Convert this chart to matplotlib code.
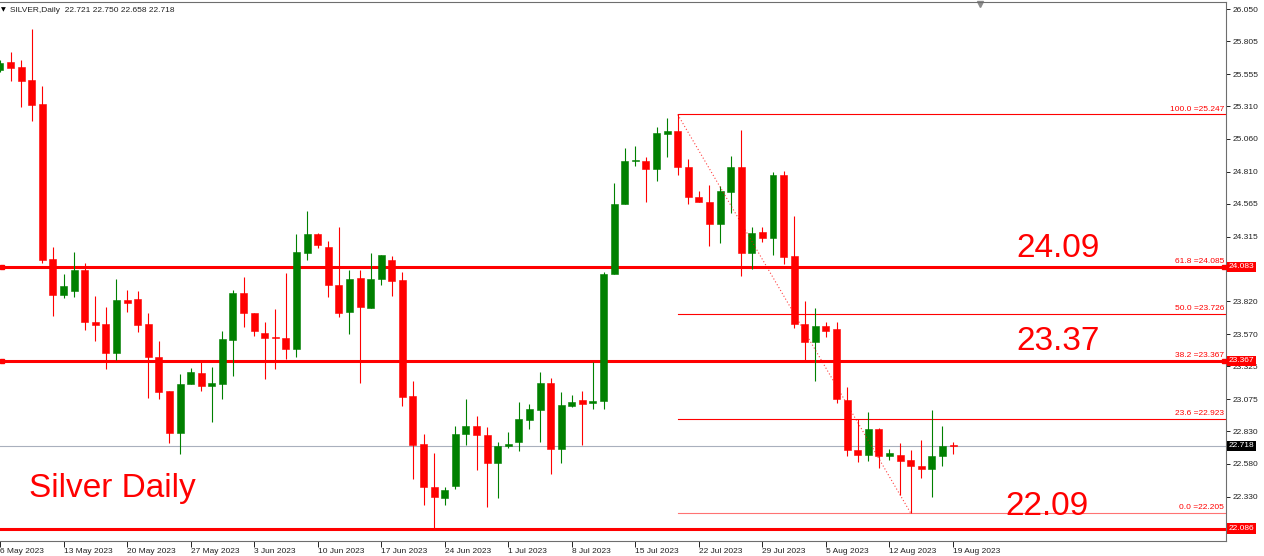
import matplotlib.pyplot as plt
import matplotlib.transforms as mtransforms

plt.rcParams['font.family'] = ['Liberation Sans', 'DejaVu Sans']

# Daily OHLC, one bar per trading day (6 bars per week on this feed)
opens = [25.587, 25.645, 25.610, 25.510, 25.327, 24.144, 23.867, 23.902, 24.062, 23.665,
         23.648, 23.429, 23.829, 23.839, 23.648, 23.396, 23.136, 22.818, 23.187, 23.271,
         23.177, 23.192, 23.528, 23.884, 23.732, 23.577, 23.548, 23.541, 23.457, 24.187,
         24.332, 24.236, 23.945, 23.742, 23.997, 23.772, 23.989, 24.136, 23.981, 23.098,
         22.729, 22.403, 22.322, 22.411, 22.808, 22.867, 22.800, 22.584, 22.719, 22.749,
         22.913, 22.994, 23.195, 22.696, 23.022, 23.068, 23.042, 23.062, 24.027, 24.561,
         24.890, 24.892, 24.833, 25.100, 25.121, 24.846, 24.619, 24.579, 24.413, 24.658,
         24.846, 24.192, 24.350, 24.307, 24.783, 24.165, 23.650, 23.513, 23.633, 23.607,
         23.068, 22.686, 22.645, 22.846, 22.642, 22.648, 22.607, 22.566, 22.543, 22.640,
         22.721]
highs = [25.663, 25.722, 25.663, 25.900, 25.465, 24.236, 24.029, 24.197, 24.113, 23.862,
         23.775, 23.991, 23.907, 23.900, 23.729, 23.518, 23.136, 23.266, 23.312, 23.365,
         23.320, 23.594, 23.907, 24.004, 23.732, 23.663, 23.762, 24.035, 24.335, 24.510,
         24.342, 24.284, 24.386, 24.060, 24.060, 24.190, 24.174, 24.167, 24.047, 23.210,
         22.808, 22.665, 22.401, 22.869, 23.073, 22.943, 22.862, 22.747, 22.821, 23.052,
         23.037, 23.281, 23.233, 23.126, 23.106, 23.136, 23.360, 24.048, 24.722, 24.994,
         25.007, 24.923, 25.152, 25.218, 25.247, 24.905, 24.665, 24.707, 24.703, 24.930,
         25.129, 24.388, 24.390, 24.808, 24.818, 24.472, 23.823, 23.768, 23.661, 23.663,
         23.167, 22.920, 22.976, 22.854, 22.694, 22.739, 22.688, 22.762, 22.991, 22.869,
         22.750]
lows = [25.571, 25.503, 25.307, 25.200, 24.116, 23.711, 23.846, 23.856, 23.602, 23.518,
        23.304, 23.373, 23.742, 23.589, 23.085, 23.075, 22.742, 22.655, 23.187, 23.139,
        22.902, 23.075, 23.253, 23.627, 23.558, 23.228, 23.307, 23.378, 23.398, 24.136,
        24.230, 23.856, 23.703, 23.571, 23.200, 23.772, 23.948, 23.864, 23.024, 22.467,
        22.264, 22.086, 22.264, 22.386, 22.726, 22.533, 22.249, 22.322, 22.703, 22.681,
        22.849, 22.747, 22.503, 22.589, 23.012, 22.726, 22.997, 22.997, 24.027, 24.561,
        24.856, 24.581, 24.742, 24.920, 24.783, 24.566, 24.581, 24.243, 24.268, 24.493,
        24.014, 24.070, 24.276, 24.174, 24.103, 23.617, 23.373, 23.213, 23.546, 23.047,
        22.640, 22.592, 22.604, 22.551, 22.610, 22.342, 22.205, 22.474, 22.325, 22.564,
        22.658]
closes = [25.640, 25.604, 25.505, 25.322, 24.136, 23.867, 23.938, 24.062, 23.665, 23.642,
          23.429, 23.831, 23.806, 23.640, 23.394, 23.131, 22.818, 23.190, 23.281, 23.177,
          23.197, 23.531, 23.884, 23.729, 23.597, 23.543, 23.539, 23.457, 24.195, 24.332,
          24.253, 23.943, 23.734, 23.991, 23.775, 23.991, 24.174, 23.978, 23.093, 22.726,
          22.401, 22.325, 22.381, 22.808, 22.869, 22.803, 22.584, 22.716, 22.732, 22.923,
          22.999, 23.195, 22.691, 23.029, 23.050, 23.037, 23.062, 24.032, 24.564, 24.890,
          24.900, 24.833, 25.103, 25.119, 24.846, 24.617, 24.581, 24.409, 24.663, 24.846,
          24.192, 24.345, 24.307, 24.783, 24.162, 23.650, 23.510, 23.633, 23.594, 23.073,
          22.686, 22.650, 22.844, 22.640, 22.663, 22.604, 22.564, 22.543, 22.640, 22.719,
          22.718]

date_labels = ['6 May 2023', '13 May 2023', '20 May 2023', '27 May 2023', '3 Jun 2023',
               '10 Jun 2023', '17 Jun 2023', '24 Jun 2023', '1 Jul 2023', '8 Jul 2023',
               '15 Jul 2023', '22 Jul 2023', '29 Jul 2023', '5 Aug 2023', '12 Aug 2023',
               '19 Aug 2023']
price_ticks = [26.050, 25.805, 25.555, 25.310, 25.060, 24.810, 24.565, 24.315,
               23.820, 23.570, 23.325, 23.075, 22.830, 22.580, 22.330]

# levels
hlines = [24.083, 23.367, 22.086]
current = 22.718
fib_start, fib_end = 64, 86
fib_high, fib_low = 25.247, 22.205
fib_ratios = [100.0, 61.8, 50.0, 38.2, 23.6, 0.0]

up_col = '#008000'
dn_col = '#ff0000'

fig = plt.figure(figsize=(12.64, 5.56), dpi=100)
ax = fig.add_axes([0, 15 / 556, 1226 / 1264, 539 / 556])

n = len(opens)
xs = list(range(n))
for i in xs:
    o, h, l, c = opens[i], highs[i], lows[i], closes[i]
    col = up_col if c >= o else dn_col
    ax.vlines(i, l, h, color=col, linewidth=0.8, zorder=3)
    bottom = min(o, c)
    height = max(abs(c - o), 0.004)
    ax.bar(i, height, bottom=bottom, width=0.66, color=col, edgecolor=col,
           linewidth=0.4, zorder=4)

# current price line
ax.axhline(current, color='#a9b0bd', linewidth=0.8, zorder=1)

# horizontal levels
for lv in hlines:
    ax.axhline(lv, color=dn_col, linewidth=2.2, zorder=2)
for lv in hlines[:2]:
    ax.plot([0.15], [lv], marker='s', ms=3, color=dn_col, clip_on=False, zorder=5)
    ax.plot([115.6], [lv], marker='s', ms=2.5, color=dn_col, clip_on=False, zorder=5)

# fibonacci retracement
ax.plot([fib_start, fib_end], [fib_high, fib_low], color=dn_col, linewidth=0.8,
        linestyle=(0, (1, 2)), alpha=0.75, zorder=5)
xmax = 115.78
for r in fib_ratios:
    lv = fib_low + r / 100 * (fib_high - fib_low)
    a = 0.55 if r == 0.0 else 1.0
    ax.plot([fib_start, xmax], [lv, lv], color=dn_col, linewidth=0.8, alpha=a, zorder=2)
    ax.text(xmax - 0.2, lv + 0.012, '%.1f =%.3f' % (r, lv), color=dn_col, fontsize=6,
            ha='right', va='bottom', zorder=6)

ax.set_xlim(0.12, xmax)
ax.set_ylim(21.9912, 26.1057)

# axes styling
for s in ['left']:
    ax.spines[s].set_visible(False)
for s in ['top', 'right', 'bottom']:
    ax.spines[s].set_color('#6e6e6e')
    ax.spines[s].set_linewidth(0.8)

ax.yaxis.tick_right()
ax.set_yticks(price_ticks)
ax.set_yticklabels(['%.3f' % v for v in price_ticks])
ax.tick_params(axis='y', length=3, width=0.7, pad=2, labelsize=6, colors='#222222')

ax.set_xticks(list(range(0, n, 6)))
ax.set_xticklabels(date_labels, ha='left')
ax.tick_params(axis='x', length=4, width=0.7, pad=1, labelsize=6, colors='#222222')

# price boxes on the right scale
trans = mtransforms.blended_transform_factory(ax.transAxes, ax.transData)
for lv in hlines:
    ax.text(1.0025, lv, '%.3f' % lv, transform=trans, color='white', fontsize=6,
            ha='left', va='center', clip_on=False, zorder=10,
            bbox=dict(boxstyle='square,pad=0.2', facecolor=dn_col, edgecolor='none'))
ax.text(1.0025, current, '%.3f' % current, transform=trans, color='white', fontsize=6,
        ha='left', va='center', clip_on=False, zorder=10,
        bbox=dict(boxstyle='square,pad=0.2', facecolor='black', edgecolor='none'))

# big annotations
ax.text(1016 / 1226, 0.5275, '24.09', transform=ax.transAxes, color=dn_col,
        fontsize=24, ha='left', va='baseline')
ax.text(1016 / 1226, 0.3544, '23.37', transform=ax.transAxes, color=dn_col,
        fontsize=24, ha='left', va='baseline')
ax.text(1005 / 1226, 0.048, '22.09', transform=ax.transAxes, color=dn_col,
        fontsize=24, ha='left', va='baseline')
ax.text(29 / 1226, 0.081, 'Silver Daily', transform=ax.transAxes, color=dn_col,
        fontsize=24, ha='left', va='baseline')

# header
ax.text(1 / 1226, 0.985, '\u25bc', transform=ax.transAxes, fontsize=4.5,
        color='black', ha='left', va='center', family='DejaVu Sans')
ax.text(10 / 1226, 0.985, 'SILVER,Daily  %.3f %.3f %.3f %.3f'
        % (opens[-1], highs[-1], lows[-1], closes[-1]),
        transform=ax.transAxes, fontsize=6, color='#222222', ha='left', va='center')
ax.plot([980 / 1226], [0.996], transform=ax.transAxes, marker='v', ms=5,
        color='#8c8c8c', clip_on=False)

plt.savefig('out.png', dpi=100)
